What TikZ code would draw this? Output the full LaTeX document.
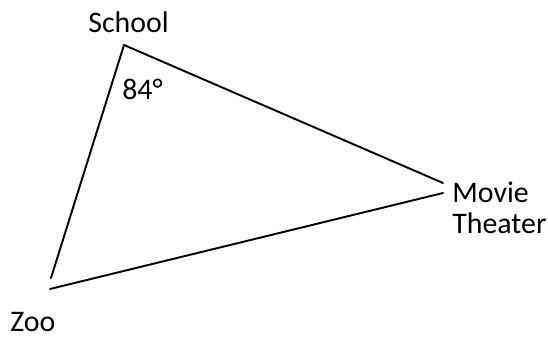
\documentclass[tikz,border=0pt]{standalone}
\usepackage{fontspec}
\setmainfont{Carlito}
\usepackage{tikz}
\usetikzlibrary{positioning}
\tikzstyle{side} = [line width=1.1pt, line cap=round]
\tikzstyle{place} = [inner sep=0pt, font=\fontsize{17}{17.3}\selectfont, align=left]

\begin{document}
\begin{tikzpicture}[x=0.02cm, y=-0.02cm]
\useasboundingbox (0,0) rectangle (548,337);

% Corners of the triangle
\coordinate (school) at (124,45);
\coordinate (zoo_top) at (51,278);
\coordinate (zoo_bottom) at (50,289);
\coordinate (theater_top) at (443,183);
\coordinate (theater_bottom) at (443,193);

% Labels
\node (school_label) [place, anchor=base west] at (88,33) {School};
\node (angle_label) [place, anchor=base west] at (122,100) {84°};
\node (theater_label) [place, anchor=north west] at (452,182) {Movie\\Theater};
\node (zoo_label) [place, anchor=base west] at (10,332) {Zoo};

% Sides
\draw [side] (school) -- (theater_top);
\draw [side] (school) -- (zoo_top);
\draw [side] (zoo_bottom) -- (theater_bottom);

\end{tikzpicture}
\end{document}
